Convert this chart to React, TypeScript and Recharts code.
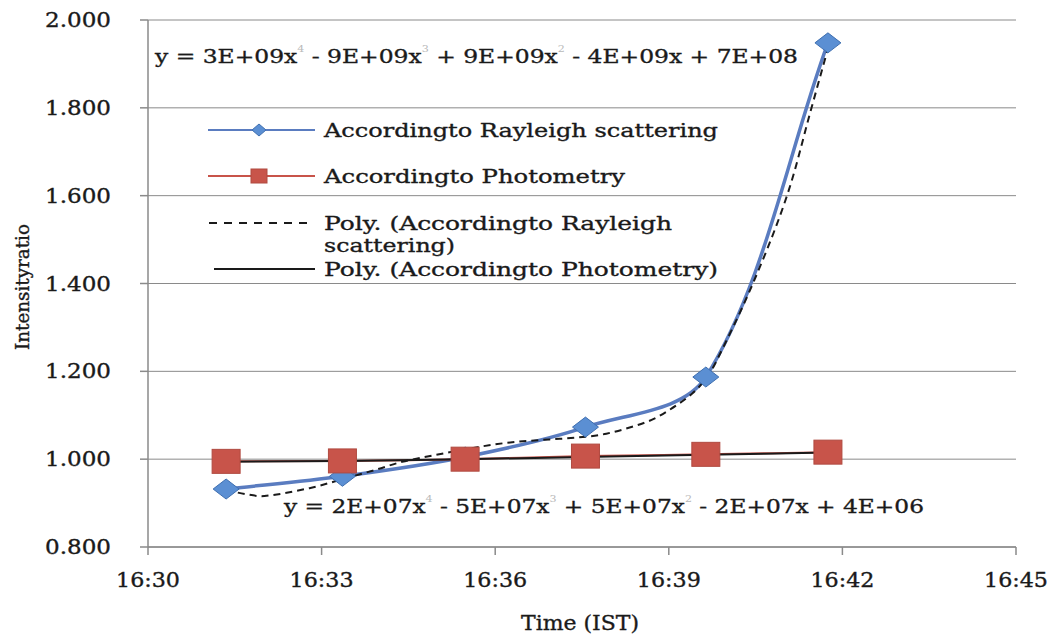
import React from 'react';
import { LineChart, Line, XAxis, YAxis, CartesianGrid, Legend } from 'recharts';

// ---- data ----
// times are minutes since midnight (16:30 = 990)
const timeMinutes = [991.35, 993.36, 995.48, 997.56, 999.64, 1001.75];
const rayleighValues = [0.932, 0.961, 1.005, 1.073, 1.187, 1.948];
const photometryValues = [0.995, 0.996, 1.0, 1.007, 1.011, 1.016];

// polynomial trend lines
const rayleighTrendTimes = [
  991.35, 991.7, 992.01, 992.79, 993.43, 993.94, 994.39, 994.91, 995.5, 996.19, 996.94,
  997.4, 997.92, 998.62, 998.96, 999.41, 999.65, 999.83, 1000.45, 1001.04, 1001.47, 1001.75,
];
const rayleighTrendValues = [
  0.93, 0.92, 0.916, 0.934, 0.957, 0.976, 0.994, 1.008, 1.023, 1.037, 1.045,
  1.049, 1.058, 1.085, 1.108, 1.15, 1.185, 1.225, 1.399, 1.599, 1.802, 1.935,
];
const photometryTrendValues = [0.994, 0.996, 1.0, 1.005, 1.01, 1.015];

const xTicks = [990, 993, 996, 999, 1002, 1005];
const xTickLabels = ['16:30', '16:33', '16:36', '16:39', '16:42', '16:45'];
const yTicks = [0.8, 1.0, 1.2, 1.4, 1.6, 1.8, 2.0];
const yTickLabels = ['0.800', '1.000', '1.200', '1.400', '1.600', '1.800', '2.000'];

const nameRayleigh = 'Accordingto Rayleigh scattering';
const namePhotometry = 'Accordingto Photometry';
const nameTrendRayleighLine1 = 'Poly. (Accordingto Rayleigh';
const nameTrendRayleighLine2 = 'scattering)';
const nameTrendPhotometry = 'Poly. (Accordingto Photometry)';

const eqRayleigh = ['y = 3E+09x', '4', ' - 9E+09x', '3', ' + 9E+09x', '2', ' - 4E+09x + 7E+08'];
const eqPhotometry = ['y = 2E+07x', '4', ' - 5E+07x', '3', ' + 5E+07x', '2', ' - 2E+07x + 4E+06'];

const xTitle = 'Time (IST)';
const yTitle = 'Intensityratio';

// ---- tables built from the arrays ----
const rayleighData = timeMinutes.map((t, i) => ({ t, v: rayleighValues[i] }));
const photometryData = timeMinutes.map((t, i) => ({ t, v: photometryValues[i] }));
const rayleighTrendData = rayleighTrendTimes.map((t, i) => ({ t, v: rayleighTrendValues[i] }));
const photometryTrendData = timeMinutes.map((t, i) => ({ t, v: photometryTrendValues[i] }));

const FONT = "'DejaVu Serif', 'Liberation Serif', serif";
const BLUE = '#5a7cc0';
const RED = '#c8544a';
const GRID = '#8a8a8a';
const INK = '#1a1a1a';

// Excel-like smoothed curve: cubic Bezier whose tangent at each point follows the
// neighbours' chord, scaled by the adjacent segment lengths
function excelSmooth(context: any) {
  let pts: number[][] = [];
  const dist = (a: number[], b: number[]) => Math.hypot(b[0] - a[0], b[1] - a[1]);
  return {
    areaStart() {},
    areaEnd() {},
    lineStart() {
      pts = [];
    },
    point(x: number, y: number) {
      pts.push([+x, +y]);
    },
    lineEnd() {
      const n = pts.length;
      if (n === 0) return;
      context.moveTo(pts[0][0], pts[0][1]);
      if (n === 1) {
        context.lineTo(pts[0][0], pts[0][1]);
        return;
      }
      for (let i = 0; i < n - 1; i++) {
        const p0 = pts[Math.max(i - 1, 0)];
        const p1 = pts[i];
        const p2 = pts[i + 1];
        const p3 = pts[Math.min(i + 2, n - 1)];
        const d01 = dist(p0, p1);
        const d12 = dist(p1, p2);
        const d23 = dist(p2, p3);
        const k1 = d01 + d12 > 0 ? d12 / (d01 + d12) / 3 : 0;
        const k2 = d12 + d23 > 0 ? d12 / (d12 + d23) / 3 : 0;
        context.bezierCurveTo(
          p1[0] + (p2[0] - p0[0]) * k1,
          p1[1] + (p2[1] - p0[1]) * k1,
          p2[0] - (p3[0] - p1[0]) * k2,
          p2[1] - (p3[1] - p1[1]) * k2,
          p2[0],
          p2[1]
        );
      }
    },
  };
}

const DiamondDot = (props: any) => {
  const { cx, cy, index } = props;
  if (cx == null || cy == null) return <g key={`d${index}`} />;
  const w = 13;
  const h = 10;
  return (
    <path
      key={`d${index}`}
      d={`M${cx},${cy - h}L${cx + w},${cy}L${cx},${cy + h}L${cx - w},${cy}Z`}
      fill="#5b8fd3"
      stroke="#3f6fb0"
      strokeWidth={1}
    />
  );
};

const SquareDot = (props: any) => {
  const { cx, cy, index } = props;
  if (cx == null || cy == null) return <g key={`s${index}`} />;
  const w = 14;
  const h = 12;
  return (
    <rect
      key={`s${index}`}
      x={cx - w}
      y={cy - h}
      width={2 * w}
      height={2 * h}
      fill={RED}
      stroke="#b04a40"
      strokeWidth={1}
    />
  );
};

const textStyle = { fontFamily: FONT, stroke: INK, strokeWidth: 0.35 };

const YTick = (props: any) => {
  const { y, payload } = props;
  const idx = yTicks.findIndex((v) => Math.abs(v - payload.value) < 1e-9);
  return (
    <text
      x={111}
      y={y}
      textAnchor="end"
      dominantBaseline="central"
      style={textStyle}
      fontSize={20}
      fill={INK}
      textLength={66}
      lengthAdjust="spacingAndGlyphs"
    >
      {idx >= 0 ? yTickLabels[idx] : ''}
    </text>
  );
};

const XTick = (props: any) => {
  const { x, payload } = props;
  const idx = xTicks.findIndex((v) => Math.abs(v - payload.value) < 1e-9);
  return (
    <text
      x={x}
      y={580}
      textAnchor="middle"
      dominantBaseline="central"
      style={textStyle}
      fontSize={20}
      fill={INK}
      textLength={64}
      lengthAdjust="spacingAndGlyphs"
    >
      {idx >= 0 ? xTickLabels[idx] : ''}
    </text>
  );
};

const Equation = ({ parts, x, y, len }: { parts: string[]; x: number; y: number; len: number }) => (
  <text
    x={x}
    y={y}
    dominantBaseline="central"
    style={textStyle}
    fontSize={19}
    fill={INK}
    textLength={len}
    lengthAdjust="spacingAndGlyphs"
  >
    {parts.map((p, i) =>
      i % 2 === 1 ? (
        <tspan key={i} fontSize={9} fill="#b8b8b8" stroke="none" dy={-7}>
          {p}
        </tspan>
      ) : (
        <tspan key={i} dy={i === 0 ? 0 : 7}>
          {p}
        </tspan>
      )
    )}
  </text>
);

const legendText = (x: number, y: number, s: string, len: number) => (
  <text
    x={x}
    y={y}
    dominantBaseline="central"
    style={textStyle}
    fontSize={19}
    fill={INK}
    textLength={len}
    lengthAdjust="spacingAndGlyphs"
  >
    {s}
  </text>
);

const Overlay = () => (
  <svg width={1049} height={635} style={{ position: 'absolute', left: 0, top: 0, pointerEvents: 'none' }}>
    {/* legend */}
    <line x1={208} y1={130} x2={315} y2={130} stroke={BLUE} strokeWidth={2} />
    <path d="M259,124L266,130L259,136L252,130Z" fill="#5b8fd3" stroke="#3f6fb0" strokeWidth={1} />
    {legendText(324, 130, nameRayleigh, 394)}

    <line x1={208} y1={176} x2={315} y2={176} stroke={RED} strokeWidth={2} />
    <rect x={251} y={169} width={16} height={14} fill={RED} stroke="#b04a40" />
    {legendText(324, 176, namePhotometry, 301)}

    <line x1={209} y1={223} x2={309} y2={223} stroke={INK} strokeWidth={2} strokeDasharray="8 7" />
    {legendText(324, 223, nameTrendRayleighLine1, 348)}
    {legendText(324, 245, nameTrendRayleighLine2, 131)}

    <line x1={214} y1={269} x2={315} y2={269} stroke={INK} strokeWidth={2} />
    {legendText(324, 269, nameTrendPhotometry, 394)}

    {/* trend equations */}
    <Equation parts={eqRayleigh} x={155} y={56} len={643} />
    <Equation parts={eqPhotometry} x={284} y={506} len={640} />

    {/* axis titles */}
    <text
      x={580}
      y={623}
      textAnchor="middle"
      dominantBaseline="central"
      style={textStyle}
      fontSize={20}
      fill={INK}
      textLength={118}
      lengthAdjust="spacingAndGlyphs"
    >
      {xTitle}
    </text>
    <text
      transform="translate(22,287) rotate(-90)"
      x={0}
      y={0}
      textAnchor="middle"
      dominantBaseline="central"
      style={textStyle}
      fontSize={18}
      fill={INK}
      textLength={126}
      lengthAdjust="spacingAndGlyphs"
    >
      {yTitle}
    </text>
  </svg>
);

export default function App() {
  return (
    <div style={{ position: 'absolute', left: 0, top: 0, width: 1049, height: 635, background: '#fff' }}>
      <LineChart width={1049} height={635} margin={{ top: 20, right: 33, bottom: 0, left: 0 }}>
        <CartesianGrid horizontal={true} vertical={false} stroke={GRID} strokeWidth={1} />
        <XAxis
          type="number"
          dataKey="t"
          domain={[990, 1005]}
          ticks={xTicks}
          allowDataOverflow
          height={88}
          tick={<XTick />}
          tickSize={8}
          axisLine={{ stroke: GRID, strokeWidth: 1.5 }}
          tickLine={{ stroke: GRID, strokeWidth: 1.5 }}
        />
        <YAxis
          type="number"
          dataKey="v"
          domain={[0.8, 2.0]}
          ticks={yTicks}
          allowDataOverflow
          width={148}
          tick={<YTick />}
          tickSize={8}
          axisLine={{ stroke: GRID, strokeWidth: 1.5 }}
          tickLine={{ stroke: GRID, strokeWidth: 1.5 }}
        />
        <Line
          name={nameRayleigh}
          data={rayleighData}
          dataKey="v"
          type={excelSmooth as any}
          stroke={BLUE}
          strokeWidth={3.5}
          dot={DiamondDot}
          isAnimationActive={false}
        />
        <Line
          name={namePhotometry}
          data={photometryData}
          dataKey="v"
          type={excelSmooth as any}
          stroke={RED}
          strokeWidth={2}
          dot={SquareDot}
          isAnimationActive={false}
        />
        <Line
          name="Poly. (Accordingto Rayleigh scattering)"
          data={rayleighTrendData}
          dataKey="v"
          type={excelSmooth as any}
          stroke={INK}
          strokeWidth={2}
          strokeDasharray="7 5"
          dot={false}
          activeDot={false}
          isAnimationActive={false}
        />
        <Line
          name={nameTrendPhotometry}
          data={photometryTrendData}
          dataKey="v"
          type={excelSmooth as any}
          stroke={INK}
          strokeWidth={2}
          dot={false}
          activeDot={false}
          isAnimationActive={false}
        />
        <Legend
          layout="vertical"
          align="center"
          verticalAlign="middle"
          wrapperStyle={{ left: 0, top: 0, width: 1049, height: 635, pointerEvents: 'none' }}
          content={() => <Overlay />}
        />
      </LineChart>
    </div>
  );
}
